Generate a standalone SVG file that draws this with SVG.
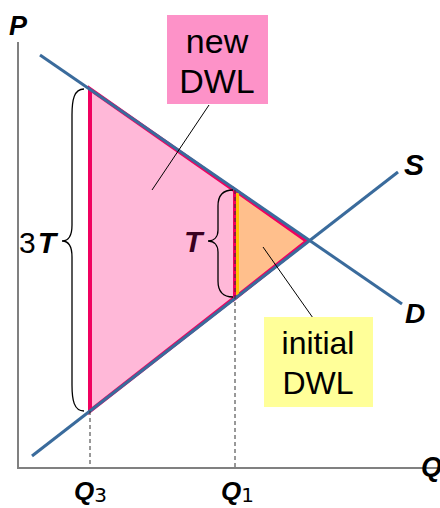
<svg xmlns="http://www.w3.org/2000/svg" width="440" height="508" viewBox="0 0 440 508">
<style>
.lbl{font-family:"Liberation Sans",Arial,sans-serif;font-weight:bold;font-style:italic;fill:#000}
.box{font-family:"Liberation Sans",Arial,sans-serif;fill:#000;text-anchor:middle}
.curve{stroke:#3a6b9c;stroke-width:3;fill:none}
.brace{stroke:#000;stroke-width:1.3;fill:none}
.dash{stroke:#333;stroke-width:1;stroke-dasharray:4,3;fill:none}
.lead{stroke:#000;stroke-width:1;fill:none}
.sub{font-family:"DejaVu Sans","Liberation Sans",sans-serif;font-weight:normal;font-style:normal}
</style>
<rect width="440" height="508" fill="#fff"/>
<g id="axes">
<line x1="18" y1="42" x2="18" y2="468" stroke="#808080" stroke-width="2"/>
<line x1="17" y1="468" x2="440" y2="468" stroke="#808080" stroke-width="2"/>
<text class="lbl" x="9" y="35" font-size="27">P</text>
<text class="lbl" x="421" y="476" font-size="27">Q</text>
</g>
<g id="newDWLarea">
<polygon points="90,89 90,411 307,241" fill="#ffb8d8" stroke="#f0005f" stroke-width="4" stroke-linejoin="miter"/>
</g>
<g id="initialDWLarea">
<polygon points="235,190 235,298 307,241" fill="#ffbf8c" stroke="#f0005f" stroke-width="4"/>
<line x1="237.5" y1="193" x2="237.5" y2="295" stroke="#ffc000" stroke-width="3"/>
</g>
<g id="connectors">
<line class="curve" x1="40" y1="55" x2="402" y2="304"/>
<line class="curve" x1="32" y1="456" x2="398" y2="172"/>
<line class="dash" x1="90" y1="411" x2="90" y2="467"/>
<line class="dash" x1="235" y1="190" x2="235" y2="467"/>
<line class="lead" x1="209" y1="105" x2="152" y2="190"/>
<line class="lead" x1="263" y1="247" x2="313" y2="318"/>
</g>
<g id="supply">
<text class="lbl" x="404" y="175" font-size="30">S</text>
</g>
<g id="demand">
<text class="lbl" x="405" y="323" font-size="28">D</text>
</g>
<g id="brace3T">
<path class="brace" d="M84,89 C74,89 72,100 72,115 L72,225 C72,236 68,241 62,241 C68,241 72,246 72,257 L72,385 C72,400 74,411 84,411"/>
<text x="19" y="253" font-family="'Liberation Sans',Arial,sans-serif" font-size="30">3<tspan font-weight="bold" font-style="italic" dx="2">T</tspan></text>
</g>
<g id="braceT">
<path class="brace" d="M233,190 C222,190 218,196 218,206 L218,230 C218,237 214,241 208,241 C214,241 218,245 218,252 L218,281 C218,291 222,297 233,297"/>
<text class="lbl" x="184" y="252" font-size="30" style="fill:#3a0020">T</text>
</g>
<g id="newDWL">
<rect x="167" y="15" width="101" height="89" fill="#fd92c8"/>
<text class="box" x="217" y="53" font-size="34">new</text>
<text class="box" x="217" y="93" font-size="34">DWL</text>
</g>
<g id="initialDWL">
<rect x="264" y="317" width="109" height="90" fill="#ffff99"/>
<text class="box" x="318" y="354" font-size="32">initial</text>
<text class="box" x="318" y="394" font-size="32">DWL</text>
</g>
<g id="Q3">
<text class="lbl" x="74" y="500" font-size="26">Q<tspan class="sub" font-size="20" dy="2">3</tspan></text>
</g>
<g id="Q1">
<text class="lbl" x="221" y="500" font-size="26">Q<tspan class="sub" font-size="20" dy="2">1</tspan></text>
</g>
</svg>
